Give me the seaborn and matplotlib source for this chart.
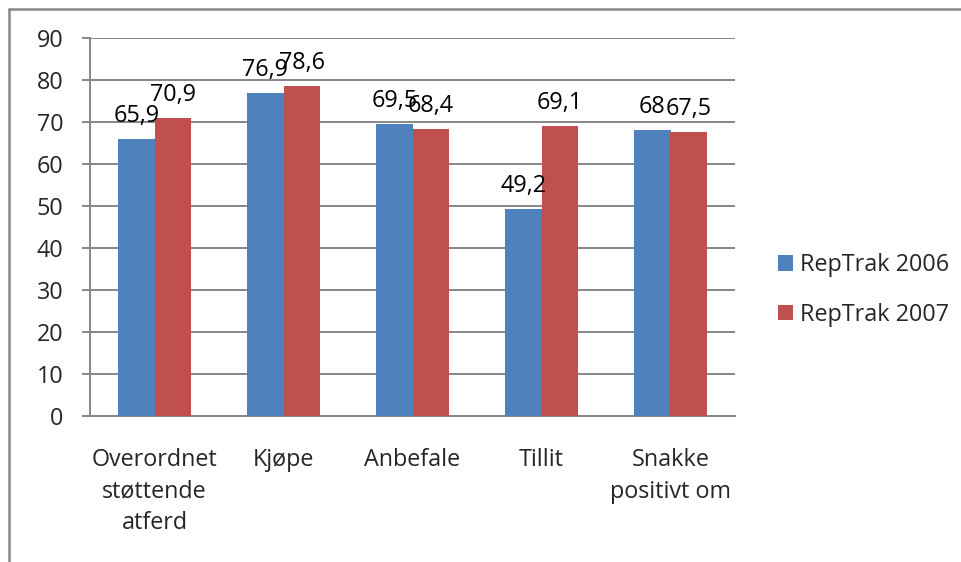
import pandas as pd
import matplotlib.pyplot as plt
import seaborn as sns
from matplotlib.patches import Patch
from matplotlib.lines import Line2D

# data
categories = ["Overordnet\nstøttende\natferd", "Kjøpe", "Anbefale", "Tillit", "Snakke\npositivt om"]
series_names = ["RepTrak 2006", "RepTrak 2007"]
values_2006 = [65.9, 76.9, 69.5, 49.2, 68.0]
values_2007 = [70.9, 78.6, 68.4, 69.1, 67.5]
colors = ["#4F81BD", "#C0504D"]
y_ticks = [0, 10, 20, 30, 40, 50, 60, 70, 80, 90]

df = pd.DataFrame({
    "kategori": categories * 2,
    "serie": [series_names[0]] * len(categories) + [series_names[1]] * len(categories),
    "verdi": values_2006 + values_2007,
})

sns.set_theme(style="white")
plt.rcParams["font.family"] = ["Open Sans", "DejaVu Sans"]
fs = 16.8
grid_col = "#868686"

fig = plt.figure(figsize=(9.62, 5.62), dpi=100)
ax = fig.add_axes([90 / 962, 1 - 416 / 562, (735 - 90) / 962, (416 - 38) / 562])

sns.barplot(data=df, x="kategori", y="verdi", hue="serie", order=categories,
            hue_order=series_names, palette=colors, width=0.566, gap=0,
            saturation=1, ax=ax, legend=False, edgecolor="none", zorder=3)

# data labels above each bar (overlapping pairs as in the original Excel chart)
for container in ax.containers:
    labels = [f"{v:g}".replace(".", ",") for v in container.datavalues]
    ax.bar_label(container, labels=labels, padding=8, fontsize=fs, color="black")

ax.set_ylim(0, 90)
ax.set_xlim(-0.5, len(categories) - 0.5)
ax.set_yticks(y_ticks)
ax.set_yticklabels([str(t) for t in y_ticks], fontsize=fs)
ax.yaxis.grid(True, color=grid_col, linewidth=1.4, zorder=0)
ax.set_axisbelow(True)

# category labels in centres, tick marks at boundaries
ax.set_xticks(range(len(categories)))
ax.set_xticklabels(categories, fontsize=fs, linespacing=1.42, va="top")
ax.set_xticks([i - 0.5 for i in range(len(categories) + 1)], minor=True)
ax.tick_params(axis="x", which="major", length=0, pad=23)
ax.tick_params(axis="x", which="minor", length=6, width=1.4, color=grid_col, direction="out")
ax.tick_params(axis="y", length=6, width=1.4, color=grid_col, direction="out", pad=13, left=True)
ax.set_xlabel("")
ax.set_ylabel("")

for side in ["top", "right"]:
    ax.spines[side].set_visible(False)
for side in ["left", "bottom"]:
    ax.spines[side].set_color(grid_col)
    ax.spines[side].set_linewidth(1.4)

handles = [Patch(facecolor=c, edgecolor="none") for c in colors]
fig.legend(handles, series_names, loc="center left",
           bbox_to_anchor=(757 / 962, 1 - 290 / 562), frameon=False, fontsize=fs,
           handlelength=0.65, handleheight=0.65, handletextpad=0.3, labelspacing=1.1)

# outer chart frame (only top and left visible in the crop)
fig.add_artist(Line2D([9 / 962, 9 / 962], [0, 1 - 9 / 562], color=grid_col, linewidth=1.8))
fig.add_artist(Line2D([9 / 962, 1], [1 - 9 / 562, 1 - 9 / 562], color=grid_col, linewidth=1.8))

fig.savefig("out.png", dpi=100)
plt.close(fig)
